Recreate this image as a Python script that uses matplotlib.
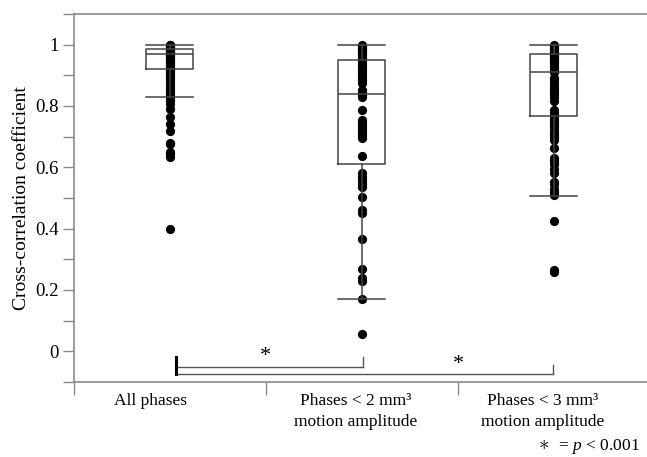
import matplotlib
matplotlib.use("Agg")
import matplotlib.pyplot as plt
from matplotlib.ticker import MultipleLocator

plt.rcParams['font.family'] = ['Liberation Serif', 'DejaVu Serif']
plt.rcParams['mathtext.fontset'] = 'custom'
plt.rcParams['mathtext.rm'] = 'Liberation Serif'
plt.rcParams['mathtext.it'] = 'Liberation Serif:italic'

# Data
groups = ["All phases",
          "Phases < 2 mm\u00b3\nmotion amplitude",
          "Phases < 3 mm\u00b3\nmotion amplitude"]

all_phases = [1.0, 0.998, 0.995, 0.993, 0.99, 0.988, 0.985, 0.982, 0.98, 0.978,
              0.975, 0.972, 0.97, 0.968, 0.965, 0.962, 0.96, 0.955, 0.95, 0.945,
              0.94, 0.935, 0.93, 0.925, 0.92, 0.915, 0.91, 0.9, 0.89, 0.88,
              0.87, 0.86, 0.85, 0.84, 0.83, 0.82, 0.808, 0.79, 0.765, 0.742,
              0.717, 0.68, 0.675, 0.65, 0.645, 0.635, 0.40]
phases_2mm = [1.0, 0.995, 0.99, 0.985, 0.98, 0.975, 0.97, 0.96, 0.955, 0.945,
              0.935, 0.925, 0.915, 0.905, 0.895, 0.885, 0.875, 0.853, 0.845,
              0.835, 0.828, 0.788, 0.755, 0.745, 0.735, 0.725, 0.715, 0.705,
              0.695, 0.637, 0.58, 0.57, 0.56, 0.545, 0.537, 0.502, 0.46, 0.45,
              0.365, 0.268, 0.24, 0.23, 0.172, 0.055]
phases_3mm = [1.0, 0.995, 0.99, 0.985, 0.98, 0.975, 0.97, 0.965, 0.96, 0.955,
              0.95, 0.945, 0.94, 0.93, 0.92, 0.91, 0.89, 0.88, 0.87, 0.86,
              0.85, 0.84, 0.83, 0.815, 0.788, 0.78, 0.77, 0.76, 0.75, 0.74,
              0.73, 0.72, 0.71, 0.70, 0.69, 0.662, 0.63, 0.62, 0.61, 0.595,
              0.58, 0.553, 0.545, 0.53, 0.52, 0.51, 0.426, 0.265, 0.26]
samples = [all_phases, phases_2mm, phases_3mm]

# box statistics as drawn in the figure
medians = [0.97, 0.84, 0.912]
q1 = [0.92, 0.611, 0.767]
q3 = [0.987, 0.951, 0.97]
whis_lo = [0.83, 0.17, 0.507]
whis_hi = [1.0, 1.0, 1.0]

positions = [0.5, 1.5, 2.5]
line_col = "#444444"
axis_col = "#8a8a8a"

fig = plt.figure(figsize=(6.47, 4.57), dpi=100)
ax = fig.add_axes([74 / 647, 1 - 382 / 457, 1 - 74 / 647, (382 - 14) / 457])

for pos, vals in zip(positions, samples):
    ax.scatter([pos] * len(vals), vals, s=44, color="black", zorder=2, linewidths=0)

stats = []
for i in range(3):
    stats.append(dict(med=medians[i], q1=q1[i], q3=q3[i],
                      whislo=whis_lo[i], whishi=whis_hi[i], fliers=[]))
lp = dict(color=line_col, linewidth=1.1)
ax.bxp(stats, positions=positions, widths=0.245, showfliers=False,
       boxprops=lp, medianprops=lp, whiskerprops=lp, capprops=lp,
       capwidths=0.245, manage_ticks=False, zorder=3)

# significance brackets
sig_col = "#555555"
ax.plot([0.53, 0.53], [-0.02, -0.075], color="black", lw=2.2, zorder=3)
ax.plot([0.53, 1.505], [-0.052, -0.052], color=sig_col, lw=1.0)
ax.plot([1.505, 1.505], [-0.02, -0.052], color=sig_col, lw=1.0)
ax.plot([0.53, 2.495], [-0.075, -0.075], color=sig_col, lw=1.0)
ax.plot([2.495, 2.495], [-0.046, -0.075], color=sig_col, lw=1.0)
ax.text(1.0, -0.047, "*", ha="center", va="bottom", fontsize=16)
ax.text(2.005, -0.075, "*", ha="center", va="bottom", fontsize=16)

ax.set_xlim(0, 2.985)
ax.set_ylim(-0.1, 1.1)

ax.yaxis.set_major_locator(MultipleLocator(0.2))
ax.yaxis.set_minor_locator(MultipleLocator(0.1))
ax.set_yticks([0, 0.2, 0.4, 0.6, 0.8, 1.0])
ax.set_yticklabels(["0", "0.2", "0.4", "0.6", "0.8", "1"])
ax.tick_params(axis="y", which="both", direction="out", length=8,
               color=axis_col, width=1, labelsize=13.5, pad=3)

ax.set_xticks([0, 1, 2])
ax.set_xticklabels([])
ax.tick_params(axis="x", which="major", direction="out", length=9,
               color=axis_col, width=1)

label_x = [0.40, 1.465, 2.44]
for lx, name in zip(label_x, groups):
    ax.text(lx, -0.135, name, ha="center", va="top", fontsize=12.5,
            linespacing=1.45, transform=ax.transData, clip_on=False)

ax.set_ylabel("Cross-correlation coefficient", fontsize=14, labelpad=4)

for side in ["left", "top", "bottom"]:
    ax.spines[side].set_color(axis_col)
    ax.spines[side].set_linewidth(1.2)
ax.spines["right"].set_visible(False)

# footnote: larger asterisk, then the p-value text
fig.text(640 / 647, 1 - 447 / 457, " = $\\mathit{p}$ < 0.001", ha="right",
         va="center", fontsize=12.5)
fig.text(549 / 647, 1 - 444 / 457, "$\\ast$", ha="right",
         va="center", fontsize=15)

fig.savefig("out.png", dpi=100)
